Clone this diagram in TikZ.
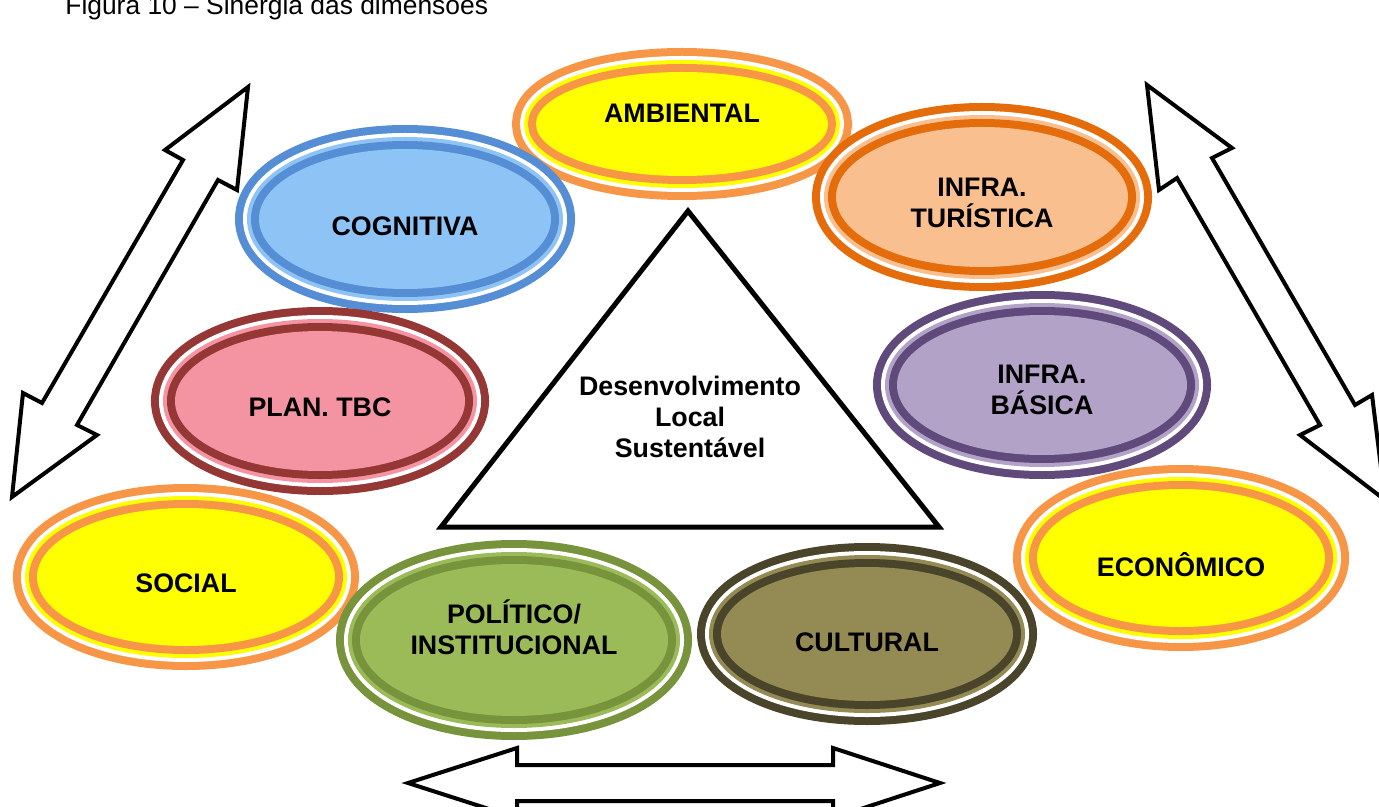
\documentclass[tikz,border=0pt]{standalone}
\usepackage{fontspec}
\setmainfont{Liberation Sans}
\usetikzlibrary{shapes.geometric}
\definecolor{sgOrange}{HTML}{F79646}
\definecolor{sgYellow}{HTML}{FFFF00}
\definecolor{sgBlue}{HTML}{558ED5}
\definecolor{sgSky}{HTML}{8EC3F6}
\definecolor{sgRust}{HTML}{E46C0A}
\definecolor{sgPeach}{HTML}{F9BF8F}
\definecolor{sgWine}{HTML}{953735}
\definecolor{sgPink}{HTML}{F493A1}
\definecolor{sgPlum}{HTML}{604A7B}
\definecolor{sgLilac}{HTML}{B3A2C7}
\definecolor{sgMoss}{HTML}{77933C}
\definecolor{sgLeaf}{HTML}{9BBB59}
\definecolor{sgBark}{HTML}{4A452A}
\definecolor{sgOlive}{HTML}{948A54}
\tikzset{
 sinergia/.style={x=0.5pt,y=-0.5pt,line join=miter},
 ring/.style 2 args={ellipse,inner sep=0pt,outer sep=0pt,fill=#2,
   preaction={draw=#1,line width=24pt},
   preaction={draw=white,line width=16pt},
   preaction={draw=#2,line width=12pt},
   preaction={draw=#1,line width=8pt}},
 dimtext/.style={font=\fontsize{13.4}{15.5}\selectfont\bfseries,align=center,inner sep=0pt},
 bigarrow/.style={draw=black,fill=white,line width=2pt,line join=miter},
 core/.style={draw=black,line width=2.5pt,line join=miter},
 caption/.style={font=\fontsize{13.2}{15.5}\selectfont,anchor=base west,inner sep=0pt}
}

\begin{document}
\begin{tikzpicture}[sinergia]
 \useasboundingbox (0,0) rectangle (1379,807);
 \node[caption] (fig) at (65,15) {Figura 10 -- Sinergia das dimensões};
 \draw[bigarrow] (248,87)--(237,190)--(218,180)--(77,425)--(97,435)--(12,497)--(23,393)--(42,403)--(183,160)--(165,150)--cycle;
 \draw[bigarrow] (1147,85)--(1232,148)--(1212,158)--(1355,405)--(1372,395)--(1385,500)--(1300,435)--(1320,425)--(1177,178)--(1159,190)--cycle;
 \draw[bigarrow] (408,783)--(517,748)--(517,765)--(833,765)--(833,748)--(940,783)--(833,818)--(833,801)--(517,801)--(517,818)--cycle;
 \foreach \n/\cx/\cy/\rx/\ry/\dk/\lt/\dy/\txt in {
   amb/682/124/170/76/sgOrange/sgYellow/5.5/AMBIENTAL,
   cog/405/219/170/94/sgBlue/sgSky/-3.5/COGNITIVA,
   tur/982/197/170/94/sgRust/sgPeach/-2.75/{INFRA.\\TURÍSTICA},
   plan/320/401/169/94/sgWine/sgPink/-3/PLAN. TBC,
   bas/1042/385/169/94/sgPlum/sgLilac/-2.25/{INFRA.\\BÁSICA},
   soc/186/577/173/93/sgOrange/sgYellow/-3.25/SOCIAL,
   eco/1181/558/168/93/sgOrange/sgYellow/-3.25/ECONÔMICO,
   pol/514/640/178/100/sgMoss/sgLeaf/6.25/{POLÍTICO/\\INSTITUCIONAL},
   cul/867/634/170/91/sgBark/sgOlive/-4/CULTURAL}{
   \node[ring={\dk}{\lt},minimum width={(\rx-24)*1pt},minimum height={(\ry-24)*1pt},
     label={[dimtext,yshift=\dy pt]center:\txt}] (\n) at (\cx,\cy) {};
 }
 \draw[core] (688,211)--(939,527)--(441,527)--cycle;
 \node[dimtext] (dls) at (690,417) {Desenvolvimento\\Local\\Sustentável};
\end{tikzpicture}
\end{document}
